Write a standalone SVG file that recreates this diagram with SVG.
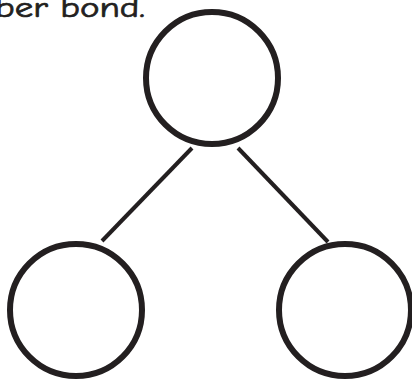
<svg xmlns="http://www.w3.org/2000/svg" width="412" height="381" viewBox="0 0 412 381">
<style>
.node{fill:#fff;stroke:#231f20;stroke-width:6}
.conn{stroke:#231f20;stroke-width:4;fill:none}
.t{font-family:"Comic Neue","DejaVu Sans",sans-serif;font-size:28px;fill:#231f20;stroke:#231f20;stroke-width:0.7}
</style>
<rect width="412" height="381" fill="#fff"/>
<text class="t" x="145" y="17" text-anchor="end" textLength="150" lengthAdjust="spacingAndGlyphs">ber bond.</text>
<g id="connectors">
<line class="conn" x1="192" y1="148" x2="102" y2="241"/>
<line class="conn" x1="238" y1="148" x2="328" y2="242"/>
</g>
<g id="top"><circle class="node" cx="212" cy="78" r="66"/></g>
<g id="left"><circle class="node" cx="76" cy="310" r="66"/></g>
<g id="right"><circle class="node" cx="345" cy="310" r="66"/></g>
</svg>
